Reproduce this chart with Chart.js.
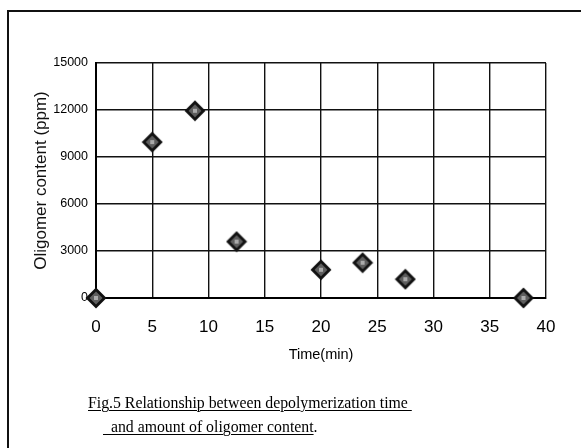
<!DOCTYPE html>
<html>
<head>
<meta charset="utf-8">
<script src="https://cdn.jsdelivr.net/npm/chart.js@4/dist/chart.umd.min.js"></script>
<style>
  html, body { margin: 0; padding: 0; background: #fff; }
  #wrap { position: relative; width: 581px; height: 448px; overflow: hidden; }
  #frame { position: absolute; left: 7px; top: 10px; width: 600px; height: 460px;
           border-top: 2px solid #111; border-left: 2px solid #111; }
  canvas { position: absolute; left: 0; top: 0; }
  .cap { position: absolute; font-family: "Liberation Serif", "Times New Roman", serif;
         font-size: 15.8px; color: #000; white-space: pre; }
  .cap u { text-decoration-thickness: 1px; text-underline-offset: 2px; }
</style>
</head>
<body>
<div id="wrap">
  <div id="frame"></div>
  <canvas id="myChart" width="581" height="448"></canvas>
  <div class="cap" style="left:88px; top:394px;"><u>Fig.5 Relationship between depolymerization time </u></div>
  <div class="cap" style="left:103px; top:418px;"><u>  and amount of oligomer content</u>.</div>
</div>
<script>
'use strict';

// time (min) and oligomer content (ppm)
const times = [0, 5, 8.8, 12.5, 20, 23.7, 27.5, 38];
const oligomer = [0, 9950, 11950, 3600, 1800, 2250, 1200, 0];

const xTicks = [0, 5, 10, 15, 20, 25, 30, 35, 40];
const yTicks = [0, 3000, 6000, 9000, 12000, 15000];

// diamond marker: black edge, grey speckled middle
function makeMarker() {
    const c = document.createElement('canvas');
    c.width = 22; c.height = 22;
    const g = c.getContext('2d');
    g.beginPath();
    g.moveTo(11, 0.5); g.lineTo(21.5, 11); g.lineTo(11, 21.5); g.lineTo(0.5, 11);
    g.closePath();
    g.fillStyle = '#111';
    g.fill();
    g.beginPath();
    g.moveTo(11, 4.5); g.lineTo(17.5, 11); g.lineTo(11, 17.5); g.lineTo(4.5, 11);
    g.closePath();
    g.fillStyle = '#5e5e5e';
    g.fill();
    g.fillStyle = '#aaa';
    g.fillRect(9, 9, 4, 4);
    return c;
}

const sans = '"Liberation Sans", Arial, sans-serif';

const ctx = document.getElementById('myChart').getContext('2d');

new Chart(ctx, {
    type: 'scatter',
    data: {
        datasets: [{
            data: times.map((t, i) => ({ x: t, y: oligomer[i] })),
            pointStyle: makeMarker(),
            pointRadius: 11,
            clip: false,
        }]
    },
    options: {
        responsive: false,
        animation: false,
        layout: { padding: { top: 63, right: 35, left: 0, bottom: 0 } },
        plugins: { legend: { display: false }, tooltip: { enabled: false } },
        scales: {
            x: {
                type: 'linear',
                min: 0,
                max: 40,
                afterFit: s => { s.height = 150; },
                afterBuildTicks: s => { s.ticks = xTicks.map(v => ({ value: v })); },
                grid: { color: '#111', lineWidth: 1.4, drawTicks: false },
                border: { color: '#000', width: 2 },
                ticks: {
                    padding: 19,
                    color: '#000',
                    font: { family: sans, size: 17 },
                    callback: v => String(v)
                },
                title: {
                    display: true,
                    text: 'Time(min)',
                    color: '#000',
                    font: { family: sans, size: 14.5 },
                    padding: { top: 0, bottom: 84 }
                }
            },
            y: {
                min: 0,
                max: 15000,
                afterFit: s => { s.width = 96; },
                afterBuildTicks: s => { s.ticks = yTicks.map(v => ({ value: v })); },
                grid: { color: '#111', lineWidth: 1.4, drawTicks: false },
                border: { color: '#000', width: 2 },
                ticks: {
                    padding: 8,
                    color: '#000',
                    font: { family: sans, size: 12.5 },
                    callback: v => String(v)
                },
                title: {
                    display: true,
                    text: 'Oligomer content (ppm)',
                    color: '#111',
                    font: { family: sans, size: 17 },
                    padding: { top: 31, bottom: 0 }
                }
            }
        }
    }
});
</script>
</body>
</html>
